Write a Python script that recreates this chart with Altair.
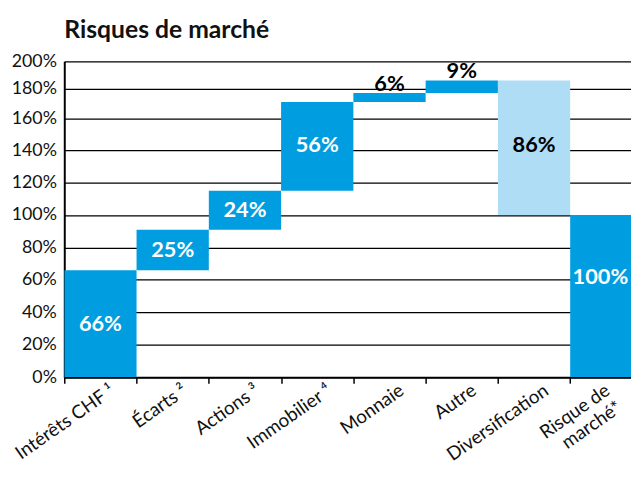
import altair as alt
import pandas as pd

categories = ["Intérêts CHF ¹", "Écarts ²", "Actions ³", "Immobilier ⁴",
              "Monnaie", "Autre", "Diversification", "Risque de|marché*"]
changes = [66, 25, 24, 56, 6, 9, -86]
total = 100
y_ticks = [0, 20, 40, 60, 80, 100, 120, 140, 160, 180, 200]

rows = []
cum = 0
for i, v in enumerate(changes):
    start, end = cum, cum + v
    cum = end
    kind = "down" if v < 0 else "up"
    pos = "above" if abs(v) < 15 else "inside"
    rows.append(dict(cat=categories[i], start=start, end=end, kind=kind,
                     label=f"{abs(v)}%", pos=pos,
                     txt="black" if (kind == "down" or pos == "above") else "white"))
rows.append(dict(cat=categories[-1], start=0, end=total, kind="total",
                 label=f"{total}%", pos="total", txt="white"))
df = pd.DataFrame(rows)
df["mid"] = (df["start"] + df["end"]) / 2
df["top"] = df[["start", "end"]].max(axis=1)

FONT = "Lato"
xscale = alt.Scale(domain=categories, range=[0, 585.6], paddingInner=0, paddingOuter=0)
yscale = alt.Scale(domain=[0, 140, 160, 180, 200], range=[320, 90, 57.7, 27.7, 0], nice=False, zero=False)

base = alt.Chart(df)

last_label = categories[-1]
bars = base.mark_bar(clip=True).encode(
    x=alt.X("cat:N", scale=xscale, sort=categories, title=None,
            axis=alt.Axis(tickBand="extent", labelAngle=325, labelAlign="right",
                          labelBaseline="middle", labelPadding=5,
                          labelOffset={"condition": {"test": f"datum.value == '{last_label}'", "value": 1},
                                       "value": 12},
                          labelExpr="split(datum.label, '|')", labelLineHeight=21,
                          labelFontSize=19, labelColor="#111", labelFont=FONT,
                          labelOverlap=False, labelBound=False, labelFlush=False,
                          domainColor="black", domainWidth=2, tickColor="black",
                          tickWidth=1.5, tickSize=6, grid=False)),
    y=alt.Y("start:Q", scale=yscale, title=None,
            axis=alt.Axis(values=y_ticks, tickCount=20, labelExpr="datum.value + '%'", ticks=False,
                          labelOverlap=False, labelPadding=8, labelFontSize=18,
                          labelColor="#111", labelFont=FONT,
                          domainColor="black", domainWidth=2, grid=True,
                          gridColor="black", gridWidth=1.3, gridOpacity=1)),
    y2="end:Q",
    color=alt.Color("kind:N", scale=alt.Scale(domain=["up", "down", "total"],
                                              range=["#009EE0", "#AEDDF5", "#009EE0"]),
                    legend=None),
)

txt_inside = base.transform_filter("datum.pos == 'inside'").mark_text(
    font=FONT, fontSize=22, fontWeight="bold", baseline="middle").encode(
    x=alt.X("cat:N", scale=xscale, sort=categories),
    y=alt.Y("mid:Q", scale=yscale),
    text="label:N",
    color=alt.Color("txt:N", scale=None),
)
txt_above = base.transform_filter("datum.pos == 'above'").mark_text(
    font=FONT, fontSize=22, fontWeight="bold", baseline="alphabetic", dy=-2).encode(
    x=alt.X("cat:N", scale=xscale, sort=categories),
    y=alt.Y("top:Q", scale=yscale),
    text="label:N",
    color=alt.Color("txt:N", scale=None),
)
txt_total = base.transform_filter("datum.pos == 'total'").mark_text(
    font=FONT, fontSize=22, fontWeight="bold", baseline="middle", dy=-19, dx=-6).encode(
    x=alt.X("cat:N", scale=xscale, sort=categories),
    y=alt.Y("mid:Q", scale=yscale),
    text="label:N",
    color=alt.Color("txt:N", scale=None),
)

chart = alt.layer(bars, txt_inside, txt_above, txt_total).properties(
    width=574, height=320,
    title=alt.TitleParams("Risques de marché", anchor="start", frame="group",
                          font=FONT, fontSize=25, fontWeight="bold", color="#111", offset=10),
    autosize=alt.AutoSizeParams(type="none"),
    padding={"left": 57, "top": 51, "right": 0, "bottom": 92},
).configure_view(stroke=None)

chart.save("out.html", embed_options={"renderer": "svg", "actions": False})
